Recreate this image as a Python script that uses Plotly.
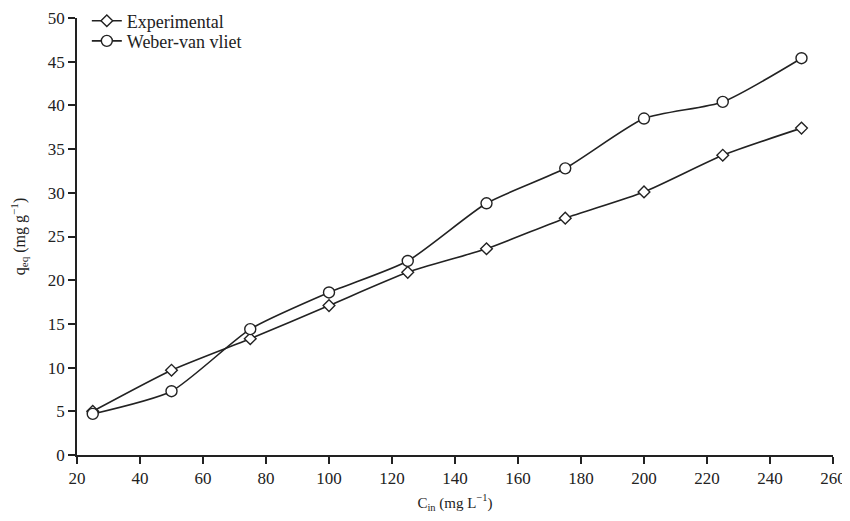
import plotly.graph_objects as go

c_in = [25, 50, 75, 100, 125, 150, 175, 200, 225, 250]
experimental = [5.0, 9.7, 13.3, 17.1, 20.9, 23.6, 27.1, 30.1, 34.3, 37.4]
weber_van_vliet = [4.7, 7.3, 14.4, 18.6, 22.2, 28.8, 32.8, 38.5, 40.4, 45.4]

x_ticks = list(range(20, 261, 20))
y_ticks = list(range(0, 51, 5))

fam = "Liberation Serif, Times New Roman, serif"
font = dict(family=fam, color="#222", size=17)
line_color = "#222"

fig = go.Figure()
fig.add_trace(go.Scatter(
    x=c_in, y=experimental, name="Experimental", mode="lines+markers", legend="legend",
    line=dict(color=line_color, width=1.6, shape="spline", smoothing=0.6),
    marker=dict(symbol="diamond", size=9, color="white", line=dict(color=line_color, width=1.4)),
))
fig.add_trace(go.Scatter(
    x=c_in, y=weber_van_vliet, name="Weber-van vliet", mode="lines+markers", legend="legend2",
    line=dict(color=line_color, width=1.6, shape="spline", smoothing=0.6),
    marker=dict(symbol="circle", size=11, color="white", line=dict(color=line_color, width=1.4)),
))

axis_common = dict(showgrid=False, zeroline=False, showline=True, linecolor=line_color, linewidth=1.5,
                   ticks="outside", ticklen=7, tickwidth=1.5, tickcolor=line_color, tickfont=font,
                   automargin=False)

legend_common = dict(x=0.013, xanchor="left", yanchor="middle", bgcolor="rgba(0,0,0,0)",
                     font=dict(family=fam, size=18, color="#222"), itemwidth=30)

fig.update_layout(
    width=842, height=513,
    paper_bgcolor="white", plot_bgcolor="white",
    margin=dict(l=69, r=17, t=10, b=66, autoexpand=False),
    font=font,
    showlegend=True,
    legend=dict(y=0.993, **legend_common),
    legend2=dict(y=0.947, **legend_common),
    xaxis=dict(range=[20, 260], tickvals=x_ticks,
               title=dict(text="C<sub>in</sub> (mg L<sup>−1</sup>)", font=dict(family=fam, size=15), standoff=10),
               **axis_common),
    yaxis=dict(range=[0, 50], tickvals=y_ticks,
               title=dict(text="q<sub>eq</sub> (mg g<sup>−1</sup>)", font=dict(family=fam, size=16), standoff=22),
               **axis_common),
)

fig.write_html("out.html")
